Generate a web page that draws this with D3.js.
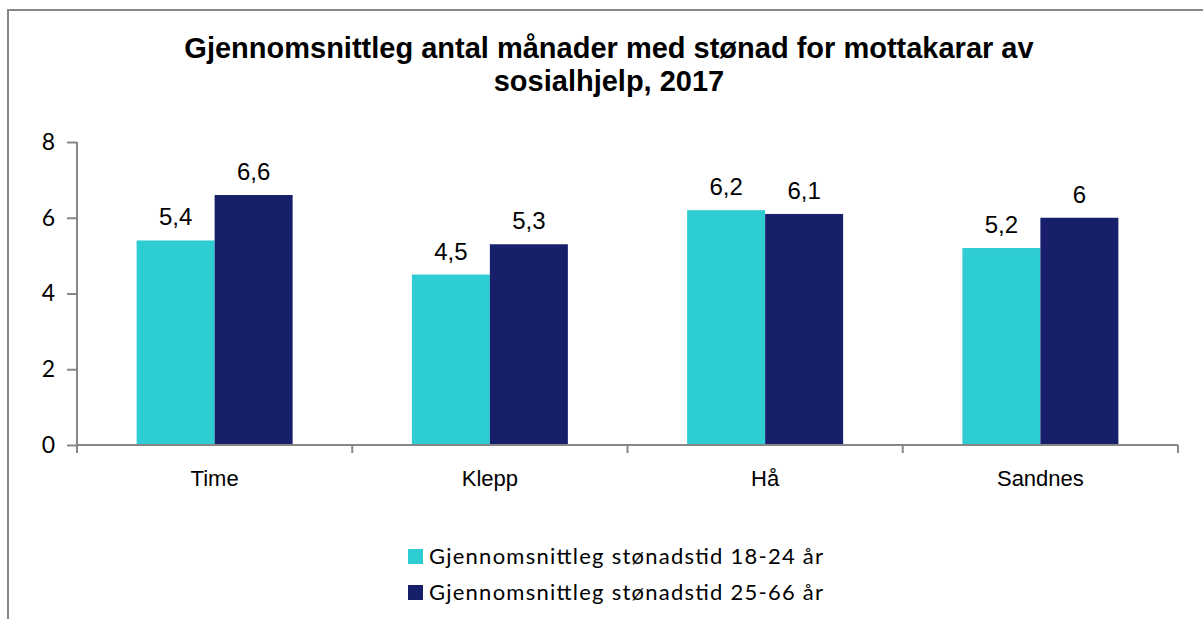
<!DOCTYPE html>
<html>
<head>
<meta charset="utf-8">
<script src="https://cdn.jsdelivr.net/npm/d3@7"></script>
<style>
  body { margin: 0; background: #fff; }
  svg { display: block; }
</style>
</head>
<body>
<div id="chart"></div>
<script>
// chart data
const categories = ["Time", "Klepp", "Hå", "Sandnes"];
const seriesNames = ["Gjennomsnittleg stønadstid 18-24 år", "Gjennomsnittleg stønadstid 25-66 år"];
const young = [5.4, 4.5, 6.2, 5.2];
const older = [6.6, 5.3, 6.1, 6];
const yTicks = [0, 2, 4, 6, 8];
const titleLines = ["Gjennomsnittleg antal månader med stønad for mottakarar av", "sosialhjelp, 2017"];

const colors = ["#2ecdd3", "#171f6b"];
const width = 1203, height = 619;

const svg = d3.select("#chart").append("svg")
    .attr("width", width)
    .attr("height", height);

// outer frame (runs off the right and bottom edge)
svg.append("rect")
    .attr("x", 8).attr("y", 10)
    .attr("width", 1220).attr("height", 640)
    .attr("fill", "none")
    .attr("stroke", "#878787")
    .attr("stroke-width", 2);

// title
svg.append("text")
    .attr("x", 609).attr("y", 58)
    .attr("text-anchor", "middle")
    .style("font-family", "'Liberation Sans', Arial, sans-serif")
    .style("font-weight", "bold")
    .style("font-size", "29px")
    .selectAll("tspan")
    .data(titleLines)
    .enter()
    .append("tspan")
    .attr("x", 609)
    .attr("dy", (d, i) => i === 0 ? 0 : 33)
    .text(d => d);

const x = d3.scaleBand()
    .domain(categories)
    .range([77, 1178]);

const y = d3.scaleLinear()
    .domain([0, 8])
    .range([445, 142]);

const barW = 78;
const series = [young, older];

// bars
series.forEach(function (vals, s) {
    svg.append("g").selectAll("rect")
        .data(vals)
        .enter()
        .append("rect")
        .attr("x", (d, i) => x(categories[i]) + x.bandwidth() / 2 - barW + s * barW)
        .attr("y", d => y(d))
        .attr("width", barW)
        .attr("height", d => y(0) - y(d))
        .attr("fill", colors[s]);

    // value labels
    svg.append("g").selectAll("text")
        .data(vals)
        .enter()
        .append("text")
        .attr("x", (d, i) => x(categories[i]) + x.bandwidth() / 2 - barW / 2 + s * barW)
        .attr("y", d => y(d) - 15)
        .attr("text-anchor", "middle")
        .style("font-family", "'Liberation Sans', Arial, sans-serif")
        .style("font-size", "24px")
        .text(d => String(d).replace(".", ","));
});

// y axis
const yAxis = svg.append("g")
    .attr("transform", "translate(77,0)")
    .call(d3.axisLeft(y).tickValues(yTicks).tickSize(10).tickPadding(12).tickFormat(d3.format("d")));
yAxis.select(".domain").attr("stroke", "#878787").attr("stroke-width", 2).attr("d", "M0,142V445");
yAxis.selectAll(".tick line").attr("stroke", "#878787").attr("stroke-width", 2);
yAxis.selectAll(".tick text")
    .style("font-family", "Lato, 'Noto Sans', sans-serif")
    .style("font-size", "23px")
    .attr("fill", "#000");

// x axis
const xAxis = svg.append("g")
    .attr("transform", "translate(0,445)")
    .call(d3.axisBottom(x).tickSize(0).tickPadding(25));
xAxis.select(".domain").attr("stroke", "#878787").attr("stroke-width", 2).attr("d", "M77,0H1178");
xAxis.selectAll(".tick text")
    .style("font-family", "'Liberation Sans', Arial, sans-serif")
    .style("font-size", "22px")
    .attr("fill", "#000");

// category boundary ticks
const bounds = categories.map(c => x(c)).concat([x.range()[1]]);
svg.append("g").selectAll("line")
    .data(bounds)
    .enter()
    .append("line")
    .attr("x1", d => d).attr("x2", d => d)
    .attr("y1", 445).attr("y2", 453)
    .attr("stroke", "#878787")
    .attr("stroke-width", 2);

// legend
const legend = svg.append("g").selectAll("g")
    .data(seriesNames)
    .enter()
    .append("g")
    .attr("transform", (d, i) => "translate(408," + (549 + i * 36) + ")");

legend.append("rect")
    .attr("width", 15).attr("height", 15)
    .attr("fill", (d, i) => colors[i]);

legend.append("text")
    .attr("x", 21).attr("y", 15)
    .style("font-family", "Lato, 'Noto Sans', sans-serif")
    .style("font-size", "22px")
    .attr("textLength", 394)
    .attr("lengthAdjust", "spacing")
    .text(d => d);
</script>
</body>
</html>
